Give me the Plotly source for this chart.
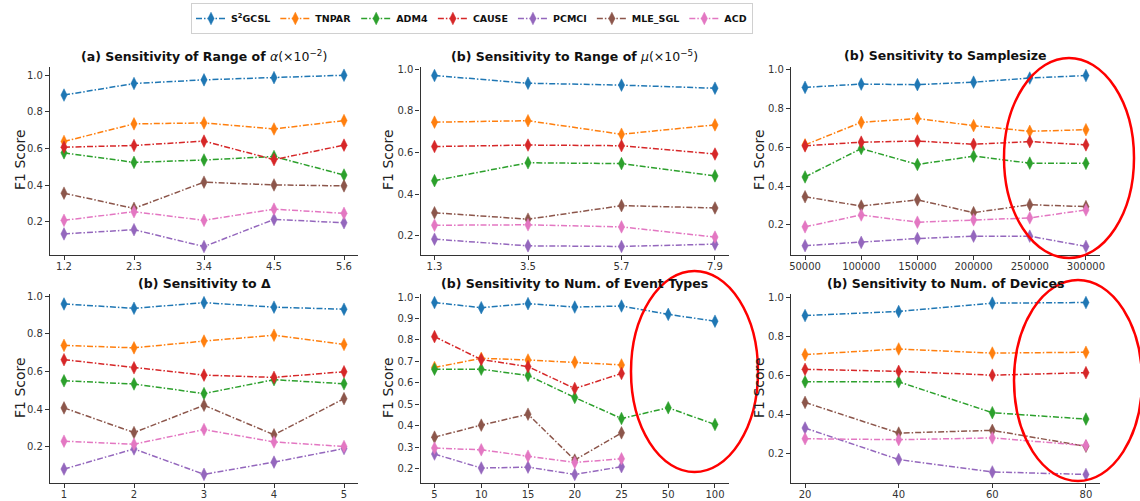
import plotly.graph_objects as go

methods = ["S<sup>2</sup>GCSL", "TNPAR", "ADM4", "CAUSE", "PCMCI", "MLE_SGL", "ACD"]
colors = ["#1f77b4", "#ff7f0e", "#2ca02c", "#d62728", "#9467bd", "#8c564b", "#e377c2"]

# (a) range of alpha
a_x = ["1.2", "2.3", "3.4", "4.5", "5.6"]
a_S2GCSL = [0.892, 0.955, 0.975, 0.987, 1.0]
a_TNPAR = [0.639, 0.735, 0.740, 0.707, 0.753]
a_ADM4 = [0.577, 0.525, 0.538, 0.557, 0.456]
a_CAUSE = [0.608, 0.617, 0.641, 0.540, 0.619]
a_PCMCI = [0.135, 0.158, 0.066, 0.214, 0.196]
a_MLE_SGL = [0.357, 0.274, 0.417, 0.402, 0.397]
a_ACD = [0.209, 0.256, 0.209, 0.270, 0.247]

# (b) range of mu
b_x = ["1.3", "3.5", "5.7", "7.9"]
b_S2GCSL = [0.970, 0.933, 0.924, 0.909]
b_TNPAR = [0.746, 0.753, 0.688, 0.733]
b_ADM4 = [0.465, 0.551, 0.547, 0.488]
b_CAUSE = [0.629, 0.636, 0.633, 0.593]
b_PCMCI = [0.184, 0.152, 0.149, 0.160]
b_MLE_SGL = [0.311, 0.280, 0.345, 0.334]
b_ACD = [0.251, 0.253, 0.243, 0.194]

# (c) sample size
c_x = ["50000", "100000", "150000", "200000", "250000", "300000"]
c_S2GCSL = [0.908, 0.925, 0.922, 0.935, 0.956, 0.969]
c_TNPAR = [0.612, 0.728, 0.748, 0.711, 0.682, 0.690]
c_ADM4 = [0.447, 0.593, 0.511, 0.554, 0.518, 0.517]
c_CAUSE = [0.607, 0.626, 0.632, 0.615, 0.629, 0.612]
c_PCMCI = [0.093, 0.110, 0.130, 0.142, 0.142, 0.089]
c_MLE_SGL = [0.345, 0.297, 0.329, 0.263, 0.304, 0.294]
c_ACD = [0.190, 0.251, 0.214, 0.226, 0.236, 0.277]

# (d) Delta
d_x = ["1", "2", "3", "4", "5"]
d_S2GCSL = [0.959, 0.936, 0.966, 0.942, 0.931]
d_TNPAR = [0.739, 0.726, 0.762, 0.793, 0.744]
d_ADM4 = [0.551, 0.534, 0.483, 0.557, 0.535]
d_CAUSE = [0.663, 0.620, 0.581, 0.569, 0.599]
d_PCMCI = [0.082, 0.189, 0.054, 0.119, 0.191]
d_MLE_SGL = [0.407, 0.276, 0.421, 0.264, 0.456]
d_ACD = [0.230, 0.214, 0.292, 0.226, 0.202]

# (e) number of event types
e_x = ["5", "10", "15", "20", "25", "50", "100"]
e_S2GCSL = [0.974, 0.950, 0.969, 0.953, 0.958, 0.919, 0.887]
e_TNPAR = [0.671, 0.714, 0.706, 0.696, 0.683, None, None]
e_ADM4 = [0.663, 0.663, 0.634, 0.531, 0.433, 0.483, 0.405]
e_CAUSE = [0.815, 0.708, 0.675, 0.573, 0.643, None, None]
e_PCMCI = [0.267, 0.202, 0.206, 0.172, 0.208, None, None]
e_MLE_SGL = [0.346, 0.402, 0.453, 0.239, 0.366, None, None]
e_ACD = [0.295, 0.287, 0.257, 0.228, 0.245, None, None]

# (f) number of devices
f_x = ["20", "40", "60", "80"]
f_S2GCSL = [0.909, 0.930, 0.973, 0.976]
f_TNPAR = [0.708, 0.737, 0.716, 0.720]
f_ADM4 = [0.568, 0.568, 0.409, 0.376]
f_CAUSE = [0.632, 0.622, 0.602, 0.615]
f_PCMCI = [0.330, 0.168, 0.104, 0.091]
f_MLE_SGL = [0.462, 0.304, 0.318, 0.236]
f_ACD = [0.275, 0.270, 0.279, 0.240]

panels = [
    (a_x, [a_S2GCSL, a_TNPAR, a_ADM4, a_CAUSE, a_PCMCI, a_MLE_SGL, a_ACD],
     "<b>(a) Sensitivity of Range of </b><i>α</i>(×10<sup>−2</sup>)"),
    (b_x, [b_S2GCSL, b_TNPAR, b_ADM4, b_CAUSE, b_PCMCI, b_MLE_SGL, b_ACD],
     "<b>(b) Sensitivity to Range of </b><i>μ</i>(×10<sup>−5</sup>)"),
    (c_x, [c_S2GCSL, c_TNPAR, c_ADM4, c_CAUSE, c_PCMCI, c_MLE_SGL, c_ACD],
     "<b>(b) Sensitivity to Samplesize</b>"),
    (d_x, [d_S2GCSL, d_TNPAR, d_ADM4, d_CAUSE, d_PCMCI, d_MLE_SGL, d_ACD],
     "<b>(b) Sensitivity to Δ</b>"),
    (e_x, [e_S2GCSL, e_TNPAR, e_ADM4, e_CAUSE, e_PCMCI, e_MLE_SGL, e_ACD],
     "<b>(b) Sensitivity to Num. of Event Types</b>"),
    (f_x, [f_S2GCSL, f_TNPAR, f_ADM4, f_CAUSE, f_PCMCI, f_MLE_SGL, f_ACD],
     "<b>(b) Sensitivity to Num. of Devices</b>"),
]

W, H = 1140, 501
def px_x(p): return p / W
def px_y(p): return 1 - p / H

x_domains = [(50, 358), (420.5, 729), (791, 1100)]
y_domains = [(255, 67), (483, 294)]
y_ranges = [[0.02, 1.045], [0.108, 1.011], [0.045, 1.013],
            [0.008, 1.012], [0.132, 1.014], [0.047, 1.02]]
y_ticks = [[0.2, 0.4, 0.6, 0.8, 1.0]] * 4 + [[0.2, 0.3, 0.4, 0.5, 0.6, 0.7, 0.8, 0.9, 1.0]] + [[0.2, 0.4, 0.6, 0.8, 1.0]]
title_py = [56, 283]
ytitle_px = [20, 388, 759]
ytitle_py = [160, 388]

fig = go.Figure()
font_family = "DejaVu Sans"
dash = "6px,2px,1.5px,2px"

for i, (xs, series, title) in enumerate(panels):
    r, c = divmod(i, 3)
    xa = "x" if i == 0 else f"x{i+1}"
    ya = "y" if i == 0 else f"y{i+1}"
    for j, vals in enumerate(series):
        fig.add_trace(go.Scatter(
            x=xs, y=vals, mode="lines+markers", name="<b>" + methods[j] + "</b>",
            legendgroup=methods[j], showlegend=(i == 0),
            line=dict(color=colors[j], width=1.5, dash=dash),
            marker=dict(symbol="diamond-tall", size=9, color=colors[j],
                        line=dict(width=0.5, color=colors[j])),
            xaxis=xa, yaxis=ya, connectgaps=False,
        ))
    n = len(xs)
    pad = 0.05 * (n - 1)
    axis_common = dict(showline=True, linecolor="#333", linewidth=1.2,
                       ticks="outside", ticklen=4, tickcolor="#333",
                       tickfont=dict(size=10, color="#333", family=font_family),
                       showgrid=False, zeroline=False, automargin=False)
    fig.layout[("xaxis" if i == 0 else f"xaxis{i+1}")] = dict(
        domain=[px_x(x_domains[c][0]), px_x(x_domains[c][1])],
        anchor=ya, type="category", range=[-pad, n - 1 + pad],
        ticklabelstandoff=-2, **axis_common)
    fig.layout[("yaxis" if i == 0 else f"yaxis{i+1}")] = dict(
        domain=[px_y(y_domains[r][0]), px_y(y_domains[r][1])],
        anchor=xa, range=y_ranges[i], tickvals=y_ticks[i], tickformat=".1f",
        **axis_common)
    fig.add_annotation(
        x=(px_x(x_domains[c][0]) + px_x(x_domains[c][1])) / 2, y=px_y(title_py[r]),
        xref="paper", yref="paper", xanchor="center", yanchor="middle",
        text=title, showarrow=False, font=dict(size=12.5, color="#111", family=font_family))
    fig.add_annotation(
        x=px_x(ytitle_px[c]), y=px_y(ytitle_py[r]), xref="paper", yref="paper",
        xanchor="center", yanchor="middle", textangle=-90, showarrow=False,
        text="F1 Score", font=dict(size=14, color="#222", family=font_family))

# red highlight ellipses
ellipses = [(1004, 58, 1134, 258), (631, 271, 758, 472), (1014, 280, 1142, 481)]
for (x0, y0, x1, y1) in ellipses:
    fig.add_shape(type="circle", xref="paper", yref="paper",
                  x0=px_x(x0), x1=px_x(x1), y0=px_y(y1), y1=px_y(y0),
                  line=dict(color="#ff0000", width=2.5))

fig.update_layout(
    width=W, height=H, margin=dict(l=0, r=0, t=0, b=0, autoexpand=False),
    paper_bgcolor="white", plot_bgcolor="white",
    font=dict(family=font_family, color="#222"),
    legend=dict(orientation="h", x=px_x(472), y=px_y(3), xanchor="center", yanchor="top",
                bordercolor="#d0d0d0", borderwidth=1, bgcolor="white",
                font=dict(size=9.5, family=font_family, color="#111"),
                itemwidth=30, tracegroupgap=0),
)

fig.write_html("out.html", config={"displayModeBar": False},
               post_script="document.body.style.margin='0';document.body.style.overflow='hidden';")
